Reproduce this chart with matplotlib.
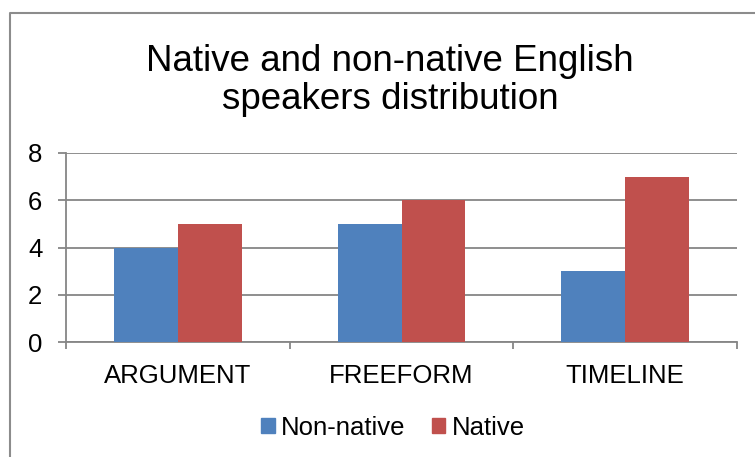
import numpy as np
import matplotlib.pyplot as plt
from matplotlib.lines import Line2D
from matplotlib.patches import Patch

categories = ["ARGUMENT", "FREEFORM", "TIMELINE"]
non_native = [4, 5, 3]
native = [5, 6, 7]
yticks = [0, 2, 4, 6, 8]

plt.rcParams['font.family'] = ['Liberation Sans', 'DejaVu Sans']

W, H = 755, 457
fig = plt.figure(figsize=(W / 100, H / 100), dpi=100)
ax = fig.add_axes([66 / W, 1 - 342 / H, (737 - 66) / W, (342 - 153) / H])

grid_c = "#868686"
blue = "#4F81BD"
red = "#C0504D"

x = np.arange(len(categories))
w = 0.286
ax.bar(x - w / 2, non_native, w, color=blue, zorder=3, label="Non-native")
ax.bar(x + w / 2, native, w, color=red, zorder=3, label="Native")

ax.set_xlim(-0.5, len(categories) - 0.5)
ax.set_ylim(0, 8)
ax.set_yticks(yticks)
ax.yaxis.grid(True, color=grid_c, linewidth=1.3, zorder=0)
ax.set_axisbelow(True)

for s in ["top", "right"]:
    ax.spines[s].set_visible(False)
for s in ["left", "bottom"]:
    ax.spines[s].set_color(grid_c)
    ax.spines[s].set_linewidth(1.3)

ax.tick_params(axis="y", direction="out", length=6, width=1.3, color=grid_c,
               labelsize=18.5, pad=11)
ax.set_xticks(x)
ax.set_xticklabels(categories)
ax.set_xticks(np.arange(-0.5, len(categories), 1.0), minor=True)
ax.tick_params(axis="x", which="major", length=0, labelsize=18.5, pad=16)
ax.tick_params(axis="x", which="minor", direction="out", length=5, width=1.3, color=grid_c)

fig.text(390 / W, 1 - 109 / H, "Native and non-native English\nspeakers distribution",
         ha="center", va="baseline", fontsize=26.5, linespacing=1.12)

handles = [Patch(color=blue), Patch(color=red)]
fig.legend(handles, ["Non-native", "Native"], loc="center", bbox_to_anchor=(393 / W, 1 - 428 / H),
           ncol=2, frameon=False, fontsize=18.5, handlelength=0.52, handleheight=0.52,
           handletextpad=0.26, columnspacing=1.0)

# chart border (only left and top edges visible)
fig.add_artist(Line2D([10 / W, 10 / W, 1], [0, 1 - 13 / H, 1 - 13 / H],
                      transform=fig.transFigure, color="#8c8c8c", linewidth=1.5))

fig.savefig("out.png", dpi=100)
